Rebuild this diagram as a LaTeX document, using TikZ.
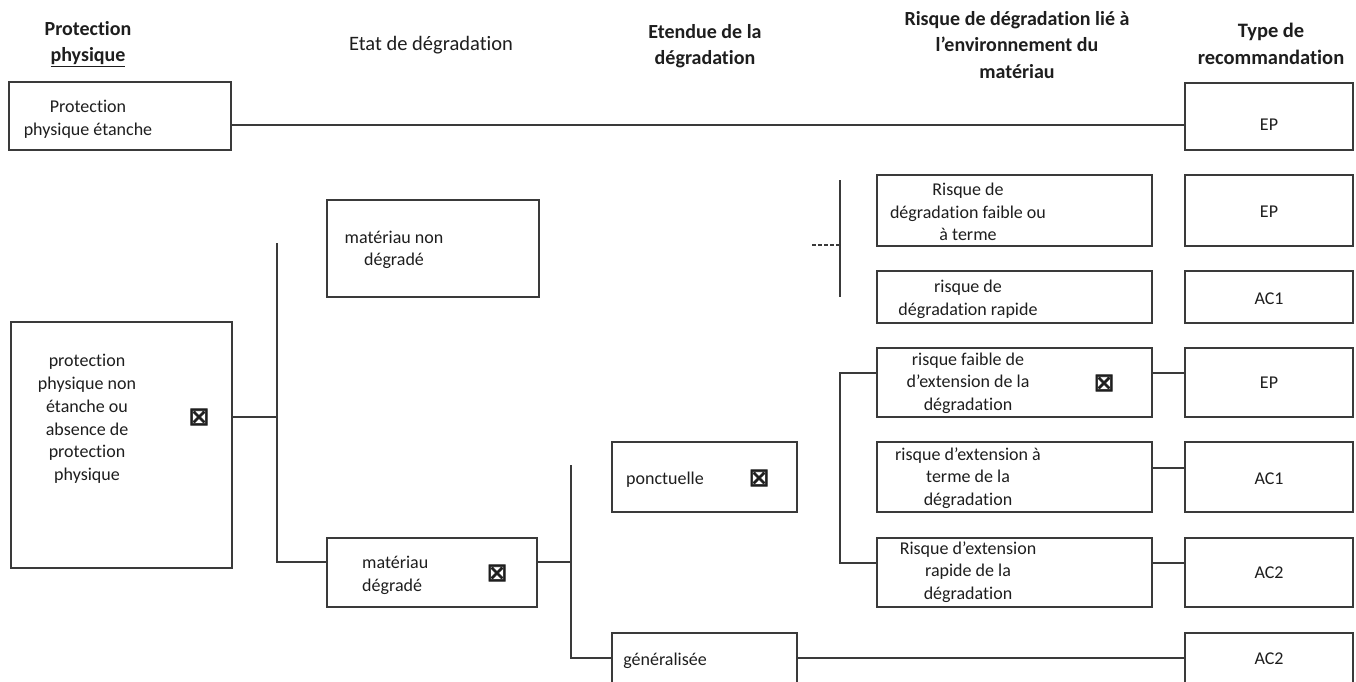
\documentclass[tikz,border=0pt]{standalone}
\usepackage{fontspec}
\setmainfont{Carlito}[Ligatures=NoCommon]
\newfontfamily\symfont{DejaVu Sans}[FakeBold=2.5]
\usetikzlibrary{fit}
\definecolor{ln}{HTML}{3A3A3A}
\definecolor{tx}{HTML}{1E1E1E}
\begin{document}
\begin{tikzpicture}[x=1pt,y=-1pt,
  box/.style={draw=ln, line width=1.4pt, inner sep=0pt},
  lbl/.style={text=tx, font=\fontsize{18}{22.7}\selectfont, align=center, inner sep=0pt},
  hdr/.style={text=tx, font=\fontsize{20}{26.5}\selectfont\bfseries, align=center, inner sep=0pt},
  hdrr/.style={text=tx, font=\fontsize{20.5}{26.5}\selectfont, align=center, inner sep=0pt},
  conn/.style={draw=ln, line width=1.4pt},
  stub/.style={draw=ln, line width=1.2pt, dashed, dash pattern=on 4pt off 2pt},
  mk/.style={text=tx, font=\symfont\fontsize{25}{25}\selectfont, inner sep=0pt}]
\fill[white] (0,0) rectangle (1356,682);
\clip (0,0) rectangle (1356,682);

% headers
\node[hdr]  (h1) at (88,44)   {Protection\\\underline{physique}};
\node[hdrr] (h2) at (431,45)  {Etat de dégradation};
\node[hdr]  (h3) at (705,46)  {Etendue de la\\dégradation};
\node[hdr]  (h4) at (1017,45) {Risque de dégradation lié à\\l'environnement du\\matériau};
\node[hdr, font=\fontsize{20.5}{26.5}\selectfont\bfseries]  (h5) at (1271,44) {Type de\\recommandation};

% column 1
\node[box, fit={(9,82) (231,150)}] (pe) {};
\node[lbl] (pet) at (88,119) {Protection\\physique étanche};
\node[box, fit={(11,322) (232,568)}] (pne) {};
\node[lbl] (pnet) at (87,419) {protection\\physique non\\étanche ou\\absence de\\protection\\physique};
\node[mk] (pnem) at (199,417) {⊠};

% column 2
\node[box, fit={(327,200) (539,297)}] (mnd) {};
\node[lbl] (mndt) at (394,250) {matériau non\\dégradé};
\node[box, fit={(327,538) (537,607)}] (md) {};
\node[lbl, align=left, anchor=west] (mdt) at (362,575) {matériau\\dégradé};
\node[mk] (mdm) at (497,573) {⊠};

% column 3
\node[box, fit={(612,442) (797,512)}] (pon) {};
\node[lbl] (pont) at (665,480) {ponctuelle};
\node[mk] (ponm) at (759,478) {⊠};
\node[box, fit={(612,633) (797,692)}] (gen) {};
\node[lbl] (gent) at (665,661) {généralisée};

% column 4
\node[box, fit={(877,175) (1152,246)}] (r1) {};
\node[lbl] (r1t) at (968,212) {Risque de\\dégradation faible ou\\à terme};
\node[box, fit={(877,271) (1152,323)}] (r2) {};
\node[lbl] (r2t) at (968,299) {risque de\\dégradation rapide};
\node[box, fit={(877,348) (1152,417)}] (r3) {};
\node[lbl] (r3t) at (968,383) {risque faible de\\d'extension de la\\dégradation};
\node[mk] (r3m) at (1104,383) {⊠};
\node[box, fit={(877,442) (1152,512)}] (r4) {};
\node[lbl] (r4t) at (968,478) {risque d'extension à\\terme de la\\dégradation};
\node[box, fit={(877,538) (1152,607)}] (r5) {};
\node[lbl] (r5t) at (968,572) {Risque d'extension\\rapide de la\\dégradation};

% column 5
\node[box, fit={(1185,83) (1353,150)}] (t0) {};
\node[lbl] (t0t) at (1269,125) {EP};
\node[box, fit={(1185,175) (1353,246)}] (t1) {};
\node[lbl] (t1t) at (1269,212) {EP};
\node[box, fit={(1185,271) (1353,323)}] (t2) {};
\node[lbl] (t2t) at (1269,299) {AC1};
\node[box, fit={(1185,348) (1353,417)}] (t3) {};
\node[lbl] (t3t) at (1269,383) {EP};
\node[box, fit={(1185,442) (1353,512)}] (t4) {};
\node[lbl] (t4t) at (1269,479) {AC1};
\node[box, fit={(1185,538) (1353,607)}] (t5) {};
\node[lbl] (t5t) at (1269,573) {AC2};
\node[box, fit={(1185,633) (1353,692)}] (t6) {};
\node[lbl] (t6t) at (1269,659) {AC2};

% bus coordinates
\coordinate (b1top) at (277,243);
\coordinate (b1bot) at (277,562);
\coordinate (b2top) at (571,465);
\coordinate (b2bot) at (571,658);
\coordinate (b3top) at (840,180);
\coordinate (b3bot) at (840,297);
\coordinate (b3stub) at (812,245);
\coordinate (b4top) at (840,373);
\coordinate (b4bot) at (840,563);

% connectors
\draw[conn] (pe.east |- 0,125) -- (t0.west |- 0,125);
\draw[conn] (pne.east |- 0,417) -- (b1top |- 0,417);
\draw[conn] (b1top) -- (b1bot) -- (md.west |- b1bot);
\draw[conn] (md.east |- 0,562) -- (b2top |- 0,562);
\draw[conn] (b2top) -- (b2bot) -- (gen.west |- b2bot);
\draw[conn] (gen.east |- 0,658) -- (t6.west |- 0,658);
\draw[conn] (b3top) -- (b3bot);
\draw[stub] (b3stub) -- (b3stub -| b3top);
\draw[conn] (r3.west |- b4top) -- (b4top) -- (b4bot) -- (r5.west |- b4bot);
\draw[conn] (r3.east |- 0,373) -- (t3.west |- 0,373);
\draw[conn] (r4.east |- 0,468) -- (t4.west |- 0,468);
\draw[conn] (r5.east |- 0,563) -- (t5.west |- 0,563);
\end{tikzpicture}
\end{document}
